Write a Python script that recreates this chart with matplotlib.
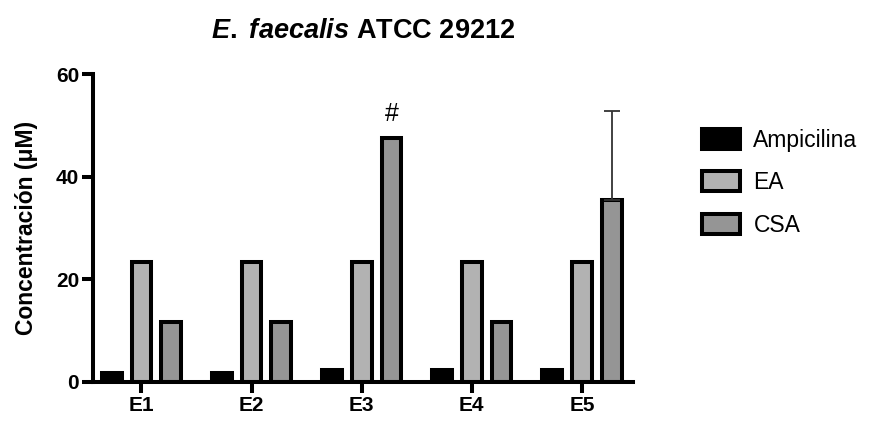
import numpy as np
import matplotlib.pyplot as plt

groups = ["E1", "E2", "E3", "E4", "E5"]
ampicilina = [1.7, 1.7, 2.3, 2.3, 2.3]
ea = [23.4, 23.4, 23.4, 23.4, 23.4]
csa = [11.7, 11.7, 47.5, 11.7, 35.5]
csa_err = [0, 0, 0, 0, 17.3]

plt.rcParams["font.family"] = ["Liberation Sans", "DejaVu Sans"]
plt.rcParams["mathtext.fontset"] = "custom"
plt.rcParams["mathtext.it"] = "Liberation Sans:italic:bold"
plt.rcParams["mathtext.rm"] = "Liberation Sans:bold"
plt.rcParams["mathtext.bf"] = "Liberation Sans:bold"

fig = plt.figure(figsize=(8.69, 4.21), dpi=100)
ax = fig.add_axes([0.107, 0.093, 0.621, 0.731])

x = np.arange(len(groups))
w = 0.18
lw = 2.9
ax.bar(x - 0.27, ampicilina, w, color="black", edgecolor="black", linewidth=lw, label="Ampicilina")
ax.bar(x, ea, w, color="#b2b2b2", edgecolor="black", linewidth=lw, label="EA")
ax.bar(x + 0.27, csa, w, color="#959595", edgecolor="black", linewidth=lw, label="CSA")

# upper error bar only where there is one
for i, e in enumerate(csa_err):
    if e > 0:
        ax.errorbar(x[i] + 0.27, csa[i], yerr=[[0], [e]], fmt="none",
                    ecolor="#333333", elinewidth=1.3, capsize=5.5, capthick=1.3)

ax.text(x[2] + 0.27, csa[2] + 2.3, "#", ha="center", va="bottom", fontsize=18)

ax.set_xlim(-0.44, 4.46)
ax.set_ylim(0, 60)
ax.set_yticks([0, 20, 40, 60])
ax.set_xticks(x)
ax.set_xticklabels(groups)
for lab in ax.get_xticklabels() + ax.get_yticklabels():
    lab.set_fontweight("bold")
    lab.set_fontsize(15)

ax.spines["top"].set_visible(False)
ax.spines["right"].set_visible(False)
ax.spines["left"].set_linewidth(2.9)
ax.spines["bottom"].set_linewidth(2.9)
ax.tick_params(axis="both", width=2.9, length=8, pad=2)

ax.set_ylabel("Concentración (μM)", fontsize=16.5, fontweight="bold", labelpad=13)

ax.set_title(r"$\it{E.}$ $\it{faecalis}$ ATCC 29212", fontsize=19.5, fontweight="bold", pad=26)

ax.legend(loc="upper left", bbox_to_anchor=(1.09, 0.89), frameon=False,
          fontsize=16.5, handlelength=1.65, handleheight=0.95, labelspacing=0.85,
          handletextpad=0.6)

fig.savefig("out.png", dpi=100)
